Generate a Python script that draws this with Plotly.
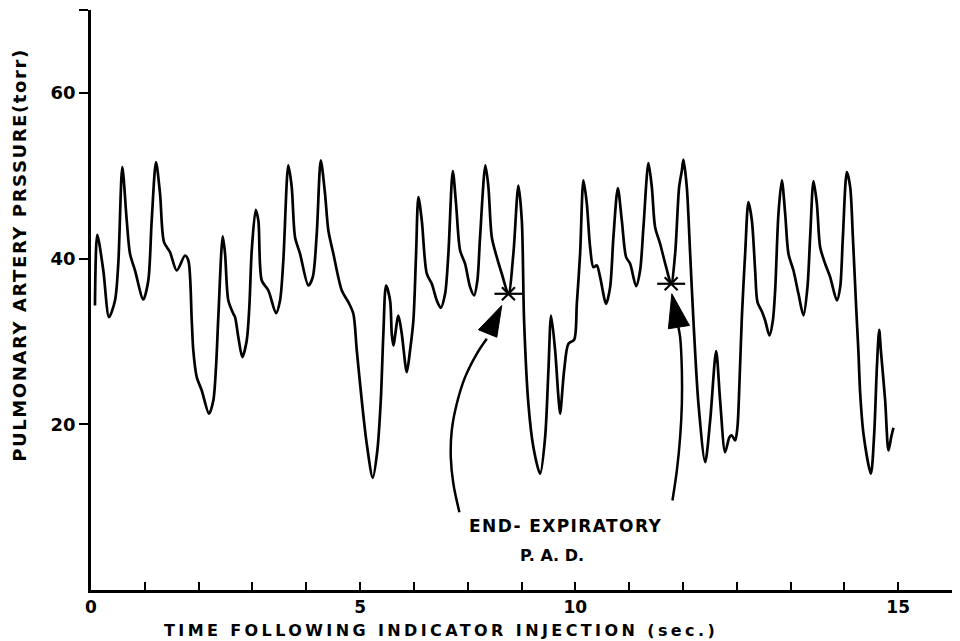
import plotly.graph_objects as go

# Time axis expressed in the chart's evenly spaced tick units (labels as printed on the original)
t = [0.074, 0.117, 0.229, 0.335, 0.446, 0.507, 0.582, 0.664, 0.725, 0.818,
     0.972, 1.065, 1.128, 1.208, 1.283, 1.357, 1.468, 1.593, 1.747, 1.809,
     1.872, 1.901, 1.965, 2.058, 2.193, 2.273, 2.323, 2.366, 2.448, 2.491,
     2.552, 2.645, 2.677, 2.738, 2.812, 2.894, 2.942, 2.987, 3.061, 3.110,
     3.173, 3.296, 3.439, 3.513, 3.574, 3.667, 3.730, 3.792, 3.885, 4.039,
     4.121, 4.195, 4.270, 4.349, 4.411, 4.504, 4.660, 4.783, 4.875, 4.939,
     5.032, 5.124, 5.236, 5.321, 5.385, 5.433, 5.483, 5.558, 5.589, 5.619,
     5.712, 5.775, 5.868, 5.929, 5.991, 6.041, 6.084, 6.147, 6.240, 6.333,
     6.426, 6.500, 6.580, 6.641, 6.723, 6.784, 6.859, 6.952, 7.045, 7.119,
     7.180, 7.230, 7.329, 7.385, 7.448, 7.541, 7.634, 7.757, 7.849, 7.942,
     8.006, 8.048, 8.128, 8.221, 8.346, 8.439, 8.500, 8.550, 8.625, 8.686,
     8.717, 8.792, 8.872, 8.978, 9.028, 9.089, 9.151, 9.214, 9.275, 9.336,
     9.400, 9.461, 9.572, 9.647, 9.708, 9.790, 9.864, 9.944, 10.019, 10.130,
     10.204, 10.266, 10.359, 10.422, 10.483, 10.576, 10.688, 10.781, 10.855, 10.929,
     10.980, 11.009, 11.072, 11.134, 11.195, 11.288, 11.413, 11.506, 11.617, 11.691,
     11.784, 11.864, 11.909, 11.970, 12.013, 12.050, 12.095, 12.156, 12.217, 12.281,
     12.342, 12.385, 12.467, 12.528, 12.608, 12.671, 12.714, 12.775, 12.838, 12.900,
     12.961, 13.054, 13.147, 13.240, 13.314, 13.364, 13.426, 13.489, 13.550, 13.643,
     13.736, 13.861, 13.922, 13.972, 14.046, 14.108, 14.158, 14.220, 14.260, 14.294,
     14.355, 14.492, 14.554, 14.604, 14.647, 14.678, 14.758, 14.819, 14.870, 14.912]

pressure = [34.34, 42.87, 38.56, 32.93, 34.94, 39.37, 51.03, 44.60, 40.58, 38.56,
            35.06, 37.36, 44.60, 51.64, 47.82, 41.98, 40.77, 38.56, 40.37, 39.77,
            32.53, 28.91, 25.69, 24.08, 21.27, 22.87, 26.89, 32.93, 42.67, 40.58,
            34.94, 33.34, 32.93, 30.51, 28.10, 30.12, 34.13, 40.98, 45.89, 44.60,
            37.36, 36.15, 33.41, 34.94, 39.77, 51.24, 48.62, 42.58, 40.58, 36.75,
            37.76, 42.99, 51.84, 47.82, 43.39, 40.58, 36.15, 34.74, 33.34, 28.91,
            22.87, 17.65, 13.54, 16.84, 22.87, 30.92, 36.75, 34.94, 30.92, 29.51,
            33.13, 30.92, 26.29, 28.91, 32.53, 40.58, 47.41, 44.60, 38.17, 36.96,
            34.94, 34.06, 35.75, 40.58, 50.55, 46.61, 40.98, 39.37, 36.55, 35.55,
            37.36, 42.58, 51.24, 48.62, 42.58, 40.17, 38.17, 35.75, 40.58, 48.82,
            44.60, 32.53, 22.47, 17.24, 14.03, 18.44, 26.49, 33.13, 28.91, 23.27,
            21.27, 26.49, 29.72, 30.20, 34.54, 40.58, 49.43, 46.61, 41.38, 38.96,
            39.17, 37.76, 34.54, 36.55, 42.58, 48.50, 44.60, 40.17, 39.37, 36.67,
            38.56, 43.79, 51.51, 48.62, 43.79, 41.79, 38.96, 36.96, 40.58, 48.62,
            50.63, 51.93, 48.62, 40.58, 32.53, 22.47, 15.43, 20.46, 28.82, 22.87,
            16.63, 18.44, 18.65, 18.04, 19.65, 24.89, 32.93, 40.58, 46.81, 44.60,
            38.56, 34.74, 33.60, 32.53, 30.72, 32.53, 36.20, 45.41, 49.43, 45.41,
            40.58, 38.56, 35.75, 33.13, 36.55, 42.58, 49.34, 46.61, 41.38, 39.37,
            37.76, 34.94, 36.55, 42.58, 50.43, 48.62, 42.58, 34.00, 28.91, 23.68,
            18.85, 14.03, 18.85, 26.89, 31.41, 28.91, 22.87, 16.84, 18.44, 19.58]

# End-expiratory P.A.D. points
star_t = [7.757, 10.781]
star_p = [35.75, 36.96]

# Curved pointer arrows (shaft and head) in data units
arrow1_t = [6.846, 6.734, 6.686, 6.704, 6.797, 6.952, 7.169, 7.355]
arrow1_p = [9.39, 12.82, 16.03, 19.25, 22.47, 25.69, 28.51, 30.32]
head1_t = [7.634, 7.199, 7.541, 7.634]
head1_p = [34.34, 31.41, 30.51, 34.34]

arrow2_t = [10.805, 10.887, 10.948, 10.980, 10.980, 10.948, 10.916]
arrow2_p = [10.80, 14.42, 18.44, 22.47, 26.49, 30.51, 31.72]
head2_t = [10.794, 10.730, 11.121, 10.794]
head2_p = [35.75, 31.53, 31.93, 35.75]

xtick_vals = list(range(0, 17))
xtick_text = ["0", "", "", "", "", "5", "", "", "", "10", "", "", "", "", "", "15", ""]
ytick_vals = [20, 40, 60, 70]
ytick_text = ["20", "40", "60", ""]

FONT = "DejaVu Sans"

fig = go.Figure()
fig.add_trace(go.Scatter(x=t, y=pressure, mode="lines",
                         line=dict(color="black", width=2.7, shape="spline", smoothing=0.8),
                         hoverinfo="skip"))
for at, ap in [(arrow1_t, arrow1_p), (arrow2_t, arrow2_p)]:
    fig.add_trace(go.Scatter(x=at, y=ap, mode="lines",
                             line=dict(color="black", width=2.5, shape="spline", smoothing=1),
                             hoverinfo="skip"))
for ht, hp in [(head1_t, head1_p), (head2_t, head2_p)]:
    fig.add_trace(go.Scatter(x=ht, y=hp, mode="lines", fill="toself", fillcolor="black",
                             line=dict(color="black", width=1), hoverinfo="skip"))
fig.add_trace(go.Scatter(x=star_t, y=star_p, mode="markers",
                         marker=dict(symbol="line-ew-open", size=20, color="black",
                                     line=dict(color="black", width=2.2)),
                         hoverinfo="skip"))
fig.add_trace(go.Scatter(x=star_t, y=star_p, mode="markers",
                         marker=dict(symbol="x-thin-open", size=13, color="black",
                                     line=dict(color="black", width=2.2)),
                         hoverinfo="skip"))

fig.add_annotation(x=8.81, y=7.78, xref="x", yref="y", showarrow=False,
                   text='<span style="letter-spacing:1.4px">END- EXPIRATORY</span>',
                   font=dict(family=FONT, size=17, color="black", weight="bold"),
                   xanchor="center", yanchor="middle")
fig.add_annotation(x=8.56, y=4.16, xref="x", yref="y", showarrow=False,
                   text="P. A. D.",
                   font=dict(family=FONT, size=16, color="black", weight="bold"),
                   xanchor="center", yanchor="middle")

# Axis titles (placed as in the original, which are not centred on the axes)
fig.add_annotation(x=6.50, y=-0.069, xref="x", yref="paper", showarrow=False,
                   text='<span style="letter-spacing:3.4px">TIME FOLLOWING INDICATOR INJECTION (sec.)</span>',
                   font=dict(family=FONT, size=16, color="black", weight="bold"),
                   xanchor="center", yanchor="middle")
fig.add_annotation(x=-0.0825, y=0.578, xref="paper", yref="paper", showarrow=False,
                   textangle=-90,
                   text='<span style="letter-spacing:1.6px">PULMONARY ARTERY PRSSURE(torr)</span>',
                   font=dict(family=FONT, size=18, color="black", weight="bold"),
                   xanchor="center", yanchor="middle")

fig.update_layout(
    width=960, height=641,
    margin=dict(l=91, r=8, t=10, b=51),
    paper_bgcolor="white", plot_bgcolor="white",
    showlegend=False,
    font=dict(family=FONT, color="black"),
)
fig.update_xaxes(
    range=[0, 16], showline=True, linecolor="black", linewidth=2.5,
    ticks="inside", ticklen=8, tickwidth=2, tickcolor="black",
    tickmode="array", tickvals=xtick_vals, ticktext=xtick_text,
    showgrid=False, zeroline=False,
    tickfont=dict(family=FONT, size=17, color="black", weight="bold"),
)
fig.update_yaxes(
    range=[0, 70], showline=True, linecolor="black", linewidth=2.5,
    ticks="outside", ticklen=9, tickwidth=2, tickcolor="black",
    tickmode="array", tickvals=ytick_vals, ticktext=ytick_text,
    showgrid=False, zeroline=False,
    tickfont=dict(family=FONT, size=18, color="black", weight="bold"),
)

fig.write_html("out.html")
